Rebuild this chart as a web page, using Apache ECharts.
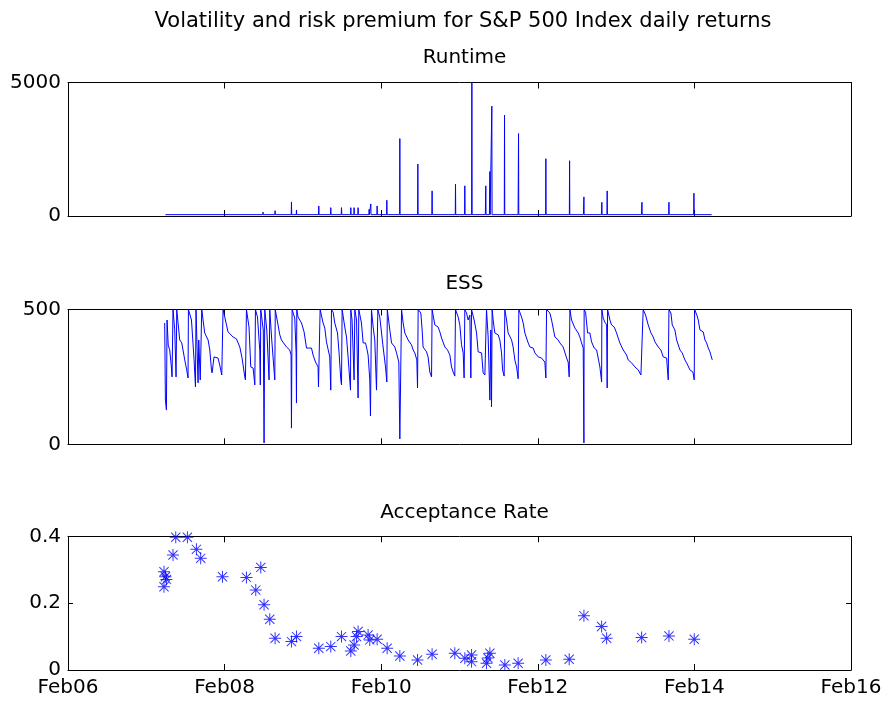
<!DOCTYPE html>
<html>
<head>
<meta charset="utf-8">
<script src="https://cdn.jsdelivr.net/npm/echarts@6/dist/echarts.min.js"></script>
<style>html,body{margin:0;padding:0;background:#fff}#c{width:890px;height:706px}</style>
</head>
<body>
<div id="c"></div>
<script>
// ---- data (x in decimal years; tick "Feb06" = 2006) ----
const xTickYears = [2006, 2008, 2010, 2012, 2014, 2016];
const xTickLabels = ['Feb06', 'Feb08', 'Feb10', 'Feb12', 'Feb14', 'Feb16'];

const mainTitle = 'Volatility and risk premium for S&P 500 Index daily returns';
const panelTitles = ['Runtime', 'ESS', 'Acceptance Rate'];

const runtimeData = [
  [2007.244,50],
  [2008.487,50],[2008.491,143],[2008.495,50],
  [2008.641,50],[2008.645,200],[2008.649,50],
  [2008.851,50],[2008.854,527],[2008.857,50],
  [2008.915,50],[2008.918,226],[2008.921,50],
  [2009.200,50],[2009.203,376],[2009.206,50],
  [2009.353,50],[2009.356,313],[2009.359,50],
  [2009.489,50],[2009.493,313],[2009.497,50],
  [2009.609,50],[2009.612,313],[2009.615,50],
  [2009.651,50],[2009.654,313],[2009.657,50],
  [2009.702,50],[2009.705,313],[2009.708,50],
  [2009.843,50],[2009.846,251],[2009.849,50],
  [2009.864,50],[2009.867,452],[2009.870,50],
  [2009.945,50],[2009.948,376],[2009.951,50],
  [2010.069,50],[2010.072,590],[2010.075,50],
  [2010.235,50],[2010.238,2900],[2010.241,50],
  [2010.465,50],[2010.468,1946],[2010.471,50],
  [2010.647,50],[2010.650,941],[2010.653,50],
  [2010.946,50],[2010.949,1193],[2010.952,50],
  [2011.065,50],[2011.068,1130],[2011.071,50],
  [2011.155,50],[2011.158,5000],[2011.161,50],
  [2011.330,50],[2011.336,1130],[2011.339,50],
  [2011.382,50],[2011.388,1668],[2011.391,50],
  [2011.410,50],[2011.413,4115],[2011.416,50],
  [2011.572,50],[2011.575,3776],[2011.578,50],
  [2011.748,50],[2011.754,3087],[2011.757,50],
  [2012.100,50],[2012.103,2146],[2012.106,50],
  [2012.403,50],[2012.406,2071],[2012.409,50],
  [2012.583,50],[2012.589,715],[2012.592,50],
  [2012.812,50],[2012.818,515],[2012.821,50],
  [2012.883,50],[2012.886,941],[2012.889,50],
  [2013.324,50],[2013.330,515],[2013.333,50],
  [2013.672,50],[2013.675,515],[2013.678,50],
  [2013.991,50],[2013.994,853],[2013.997,50],
  [2014.220,50]
];

const essData = [
  [2007.235,450],[2007.244,164],[2007.257,127],[2007.265,461],[2007.280,368],[2007.299,350],[2007.318,294],[2007.329,250],
  [2007.341,500],[2007.363,425],[2007.380,250],[2007.389,500],[2007.427,387],[2007.453,376],[2007.491,313],[2007.516,276],[2007.533,246],
  [2007.538,500],[2007.577,461],[2007.610,313],[2007.628,213],
  [2007.635,500],[2007.661,228],[2007.670,387],[2007.689,239],
  [2007.708,500],[2007.746,413],[2007.789,387],[2007.811,350],[2007.832,276],[2007.840,265],[2007.865,324],[2007.916,320],[2007.938,294],[2007.964,257],
  [2007.980,500],[2008.002,472],[2008.044,417],[2008.108,398],[2008.151,391],[2008.194,361],[2008.223,320],[2008.258,250],[2008.266,239],
  [2008.279,500],[2008.312,435],[2008.334,287],[2008.364,283],[2008.386,220],
  [2008.394,500],[2008.420,472],[2008.449,350],[2008.456,220],
  [2008.462,500],[2008.494,424],[2008.504,5],
  [2008.513,500],[2008.539,424],[2008.568,239],
  [2008.577,500],[2008.602,387],[2008.641,239],
  [2008.647,500],[2008.705,406],[2008.726,387],[2008.747,380],[2008.790,361],[2008.832,350],[2008.849,331],[2008.854,60],
  [2008.862,500],[2008.896,468],[2008.913,339],[2008.918,153],
  [2008.922,500],[2008.938,472],[2008.982,450],[2009.015,417],[2009.046,357],[2009.110,357],[2009.130,331],[2009.161,305],[2009.194,287],[2009.199,213],
  [2009.220,500],[2009.258,450],[2009.280,431],[2009.301,380],[2009.343,324],[2009.356,201],
  [2009.365,500],[2009.386,490],[2009.407,450],[2009.442,413],[2009.462,339],[2009.484,239],[2009.493,220],
  [2009.501,500],[2009.535,435],[2009.557,398],[2009.577,324],[2009.599,324],[2009.608,201],
  [2009.612,500],[2009.628,461],[2009.654,239],
  [2009.663,500],[2009.685,461],[2009.705,172],
  [2009.714,500],[2009.748,450],[2009.769,376],[2009.800,376],[2009.820,350],[2009.833,331],[2009.854,239],[2009.863,105],
  [2009.876,500],[2009.897,435],[2009.918,387],[2009.940,201],[2009.948,194],
  [2009.957,500],[2009.982,472],[2010.021,369],[2010.055,287],[2010.072,231],
  [2010.078,500],[2010.110,424],[2010.132,376],[2010.174,361],[2010.196,339],[2010.225,305],[2010.238,20],
  [2010.260,500],[2010.280,450],[2010.302,413],[2010.344,387],[2010.366,380],[2010.387,369],[2010.408,350],[2010.429,339],[2010.455,313],[2010.464,209],
  [2010.472,500],[2010.506,487],[2010.523,424],[2010.535,361],[2010.579,343],[2010.599,324],[2010.621,268],[2010.643,250],
  [2010.650,500],[2010.685,443],[2010.727,435],[2010.749,417],[2010.771,394],[2010.813,361],[2010.847,350],[2010.877,331],[2010.898,287],[2010.919,268],[2010.940,253],
  [2010.949,500],[2010.983,472],[2011.004,443],[2011.026,369],[2011.047,339],[2011.059,246],
  [2011.068,500],[2011.090,487],[2011.110,461],[2011.132,479],[2011.145,246],
  [2011.154,500],[2011.187,461],[2011.218,413],[2011.238,343],[2011.282,339],[2011.302,265],[2011.324,257],[2011.336,250],
  [2011.345,500],[2011.366,398],[2011.388,164],[2011.400,424],[2011.409,139],
  [2011.417,500],[2011.430,461],[2011.451,413],[2011.494,406],[2011.515,387],[2011.537,339],[2011.550,276],[2011.570,253],
  [2011.579,500],[2011.601,461],[2011.621,413],[2011.665,387],[2011.685,361],[2011.707,313],[2011.729,287],[2011.749,243],
  [2011.758,500],[2011.793,472],[2011.813,450],[2011.835,413],[2011.877,376],[2011.899,361],[2011.941,357],[2011.963,339],[2012.005,324],[2012.048,320],[2012.090,305],[2012.103,246],
  [2012.112,500],[2012.154,487],[2012.176,461],[2012.218,398],[2012.260,387],[2012.282,376],[2012.324,361],[2012.368,320],[2012.388,305],[2012.401,250],
  [2012.410,500],[2012.431,461],[2012.474,431],[2012.516,413],[2012.537,398],[2012.559,376],[2012.580,357],[2012.589,5],
  [2012.592,500],[2012.610,490],[2012.636,413],[2012.665,413],[2012.687,380],[2012.720,357],[2012.751,350],[2012.771,320],[2012.793,287],[2012.815,231],
  [2012.818,500],[2012.835,468],[2012.857,453],[2012.879,443],[2012.886,209],
  [2012.891,500],[2012.921,461],[2012.942,443],[2012.976,435],[2013.006,413],[2013.027,394],[2013.048,376],[2013.091,350],[2013.134,331],[2013.154,313],[2013.198,302],[2013.240,287],[2013.282,276],[2013.317,257],[2013.339,250],
  [2013.346,500],[2013.377,479],[2013.410,443],[2013.445,413],[2013.474,398],[2013.496,380],[2013.538,361],[2013.572,350],[2013.602,324],[2013.645,320],[2013.666,239],
  [2013.675,500],[2013.700,487],[2013.717,443],[2013.751,424],[2013.773,387],[2013.815,350],[2013.844,339],[2013.879,313],[2013.901,302],[2013.943,276],[2013.981,268],[2013.998,239],
  [2014.003,500],[2014.032,479],[2014.049,461],[2014.071,424],[2014.113,417],[2014.135,387],[2014.156,376],[2014.177,357],[2014.198,343],[2014.220,339],[2014.228,313]
];

const accData = [
  [2007.226,0.294],[2007.244,0.279],[2007.257,0.271],[2007.226,0.249],[2007.341,0.344],[2007.376,0.397],
  [2007.525,0.397],[2007.640,0.361],[2007.695,0.334],[2007.973,0.279],[2008.279,0.277],[2008.398,0.239],
  [2008.462,0.307],[2008.504,0.195],[2008.577,0.152],[2008.645,0.095],[2008.854,0.085],[2008.918,0.100],
  [2009.203,0.065],[2009.356,0.070],[2009.493,0.100],[2009.612,0.057],[2009.654,0.075],[2009.685,0.100],
  [2009.705,0.115],[2009.833,0.105],[2009.854,0.090],[2009.948,0.092],[2010.076,0.065],[2010.238,0.042],
  [2010.464,0.030],[2010.650,0.047],[2010.940,0.050],[2011.068,0.035],[2011.154,0.045],[2011.154,0.025],
  [2011.345,0.020],[2011.362,0.036],[2011.388,0.050],[2011.579,0.015],[2011.749,0.020],[2012.103,0.030],
  [2012.401,0.032],[2012.589,0.162],[2012.815,0.130],[2012.879,0.095],[2013.326,0.097],[2013.675,0.102],
  [2013.998,0.092]
];

const yRanges = [[0, 5000, 5000], [0, 500, 500], [0, 0.4, 0.2]];

// ---- chart ----
const FONT = 'DejaVu Sans';
const grids = [
  {left: 68, right: 39, top: 82.5, height: 133.5},
  {left: 68, right: 39, top: 309.5, height: 134.8},
  {left: 68, right: 39, top: 536.3, height: 133.7}
];
const blue = '#0000ff';
const lineBlack = {show: true, onZero: false, lineStyle: {color: '#000', width: 1}};

const xAxes = [], yAxes = [];
grids.forEach((g, i) => {
  ['bottom', 'top'].forEach(pos => {
    xAxes.push({
      type: 'value', gridIndex: i, position: pos,
      min: xTickYears[0], max: xTickYears[xTickYears.length - 1], interval: 2,
      axisLine: lineBlack,
      axisTick: {show: true, inside: true, length: 6, lineStyle: {color: '#000'}},
      axisLabel: {
        show: (i === 2 && pos === 'bottom'), margin: 8,
        color: '#000', fontFamily: FONT, fontSize: 20,
        formatter: v => xTickLabels[xTickYears.indexOf(v)] || ''
      },
      splitLine: {show: false}
    });
  });
  ['left', 'right'].forEach(pos => {
    yAxes.push({
      type: 'value', gridIndex: i, position: pos,
      min: yRanges[i][0], max: yRanges[i][1], interval: yRanges[i][2],
      axisLine: lineBlack,
      axisTick: {show: true, inside: true, length: 5, lineStyle: {color: '#000'}},
      axisLabel: {show: pos === 'left', margin: 7, color: '#000', fontFamily: FONT, fontSize: 20,
                  formatter: v => String(v)},
      splitLine: {show: false}
    });
  });
});

const starPath = 'path://M11,0H13V24H11Z M0,11H24V13H0Z M3.5,2.1L21.9,20.5L20.5,21.9L2.1,3.5Z M20.5,2.1L21.9,3.5L3.5,21.9L2.1,20.5Z';

const titleStyle = {color: '#000', fontFamily: FONT, fontSize: 20, fontWeight: 'normal'};
const option = {
  animation: false,
  backgroundColor: '#fff',
  title: [
    {text: mainTitle, left: 458, top: 6, textAlign: 'center', textStyle: Object.assign({}, titleStyle, {fontSize: 21})},
    {text: panelTitles[0], left: 459.5, top: 43, textAlign: 'center', textStyle: titleStyle},
    {text: panelTitles[1], left: 459.5, top: 269, textAlign: 'center', textStyle: titleStyle},
    {text: panelTitles[2], left: 459.5, top: 498, textAlign: 'center', textStyle: titleStyle}
  ],
  grid: grids,
  xAxis: xAxes,
  yAxis: yAxes,
  series: [
    {type: 'line', xAxisIndex: 0, yAxisIndex: 0, data: runtimeData, showSymbol: false,
     lineStyle: {color: blue, width: 1}, itemStyle: {color: blue}},
    {type: 'line', xAxisIndex: 2, yAxisIndex: 2, data: essData, showSymbol: false,
     lineStyle: {color: blue, width: 1}, itemStyle: {color: blue}},
    {type: 'scatter', xAxisIndex: 4, yAxisIndex: 4, data: accData, symbol: starPath, symbolSize: 12,
     itemStyle: {color: blue}}
  ]
};
const chart = echarts.init(document.getElementById('c'), null, {renderer: 'canvas'});
chart.setOption(option);
</script>
</body>
</html>
